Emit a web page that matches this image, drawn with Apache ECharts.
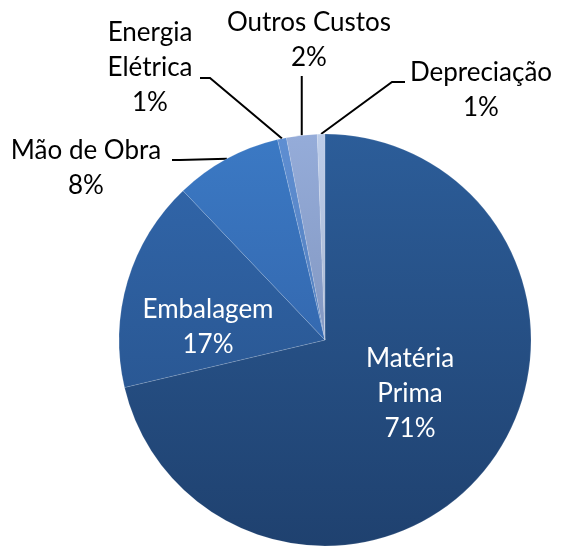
<!DOCTYPE html>
<html>
<head>
<meta charset="utf-8">
<script src="https://cdn.jsdelivr.net/npm/echarts@6/dist/echarts.min.js"></script>
<style>
  html, body { margin: 0; padding: 0; background: #ffffff; }
  #chart { width: 561px; height: 547px; }
</style>
</head>
<body>
<div id="chart"></div>
<script>
// ---- data ----
const categories = ['Matéria Prima', 'Embalagem', 'Mão de Obra', 'Energia Elétrica', 'Outros Custos', 'Depreciação'];
const values = [71.3, 16.6, 8.4, 0.7, 2.4, 0.6];
const labelNames = ['Matéria\nPrima', 'Embalagem', 'Mão de Obra', 'Energia\nElétrica', 'Outros Custos', 'Depreciação'];

// ---- styles ----
const colorTop = ['#2C5D99', '#3064A7', '#3B79C4', '#5E8ED2', '#95ACD9', '#BDCDE9'];
const colorBottom = ['#1F416F', '#2A5894', '#3469B0', '#5580BE', '#8398C2', '#A9B8D3'];
const insideIdx = [0, 1];
// label layout: centre of each label block, and guide line bend/end points
const labelPos = [
  { x: 410, y: 394 },
  { x: 208, y: 327 },
  { x: 86, y: 168, bend: [180, 160], end: [172, 160] },
  { x: 150, y: 68, bend: [210, 78], end: [200, 78] },
  { x: 309, y: 40, bend: null, end: null, vertical: 76 },
  { x: 481, y: 90, bend: [392, 82], end: [405, 82] }
];

const chart = echarts.init(document.getElementById('chart'), null, { renderer: 'canvas' });

const data = categories.map((name, i) => ({
  name: name,
  value: values[i],
  itemStyle: {
    color: new echarts.graphic.LinearGradient(0, 0, 0, 1, [
      { offset: 0, color: colorTop[i] },
      { offset: 1, color: colorBottom[i] }
    ])
  },
  label: insideIdx.indexOf(i) >= 0
    ? { position: 'inside', color: '#ffffff' }
    : { position: 'outside', color: '#000000' },
  labelLine: { show: insideIdx.indexOf(i) < 0 }
}));

chart.setOption({
  animation: false,
  backgroundColor: '#ffffff',
  series: [{
    type: 'pie',
    center: [325, 340],
    radius: 206,
    startAngle: 90,
    clockwise: true,
    avoidLabelOverlap: false,
    itemStyle: { borderColor: 'rgba(255,255,255,0.25)', borderWidth: 0.5 },
    label: {
      show: true,
      fontFamily: 'Lato',
      fontSize: 26,
      lineHeight: 35,
      align: 'center',
      formatter: function (p) {
        return labelNames[p.dataIndex] + '\n' + Math.round(p.percent) + '%';
      }
    },
    labelLine: {
      show: true,
      length: 20,
      length2: 10,
      lineStyle: { color: '#000000', width: 2 }
    },
    labelLayout: function (params) {
      const i = params.dataIndex;
      const lp = labelPos[i];
      const out = { x: lp.x, y: lp.y, align: 'center', verticalAlign: 'middle' };
      if (params.labelLinePoints && insideIdx.indexOf(i) < 0) {
        const p0 = params.labelLinePoints[0];
        let pts;
        if (lp.vertical != null) {
          pts = [[p0[0], p0[1]], [p0[0], lp.vertical], [p0[0], lp.vertical]];
        } else {
          pts = [[p0[0], p0[1]], lp.bend, lp.end];
        }
        out.labelLinePoints = pts;
      }
      return out;
    },
    data: data
  }]
});
</script>
</body>
</html>
